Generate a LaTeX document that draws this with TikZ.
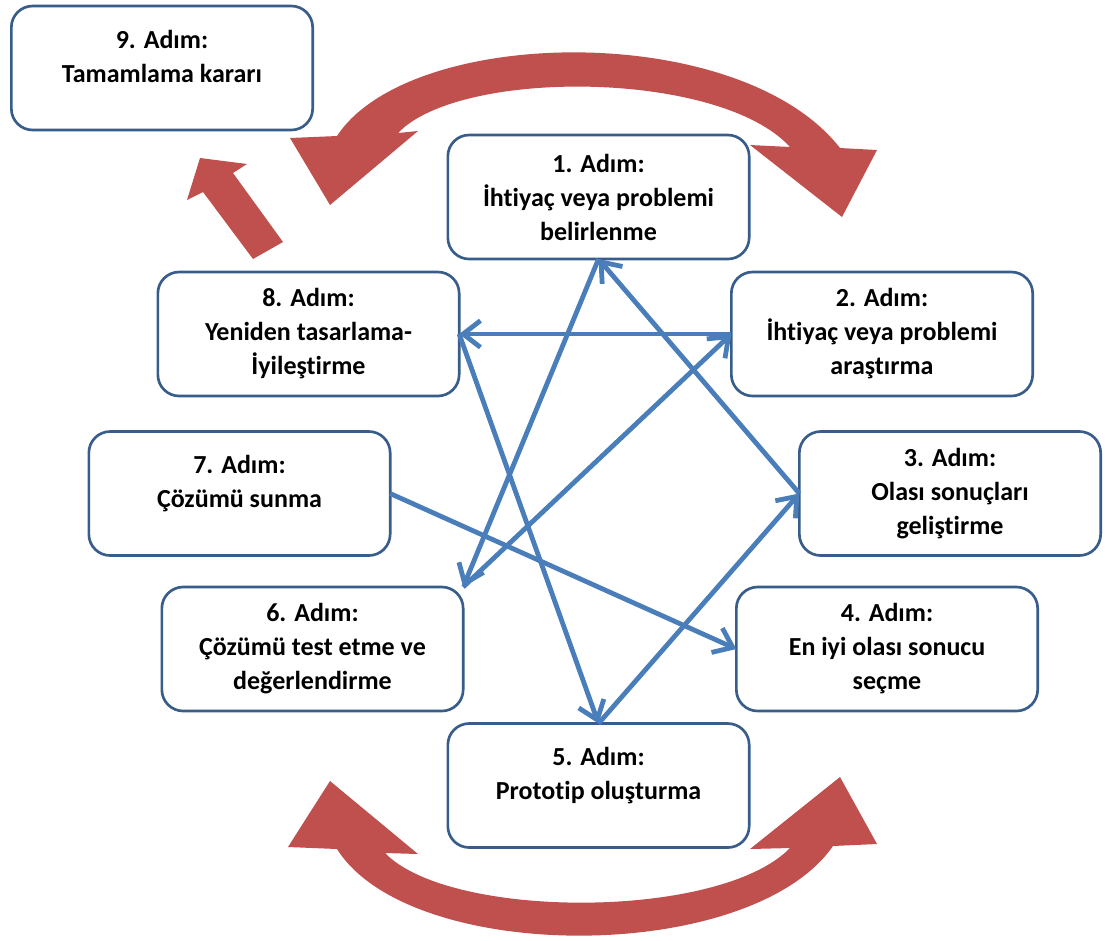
\documentclass[tikz,border=0pt]{standalone}
\usepackage{fontspec}
\setmainfont[Ligatures=NoCommon]{Carlito}
\usetikzlibrary{arrows.meta}
\definecolor{boxblue}{RGB}{56,93,138}
\definecolor{lineblue}{RGB}{74,126,187}
\definecolor{arcred}{RGB}{192,80,77}
\begin{document}
\begin{tikzpicture}[x=0.75pt,y=-0.75pt,
  stepbox/.style={draw=boxblue, line width=2pt, fill=white, rounded corners=16pt,
    minimum width=226pt, minimum height=93pt, align=center,
    font=\fontsize{19.5}{25.5}\selectfont\bfseries, inner sep=0pt, outer sep=0pt},
  flow/.style={draw=lineblue, line width=3.6pt,
    -{Straight Barb[length=13pt,width=20pt]}},
  redshape/.style={fill=arcred, draw=none}]
\useasboundingbox (0,0) rectangle (1105,940);

% red decorative arrows
\fill[redshape] (337,136) -- (290,138) -- (330,205) -- (418,131) -- (398,133)
  .. controls (460,68) and (720,70) .. (790,147)
  -- (750,145) -- (842,217) -- (877,150) -- (840,148)
  .. controls (740,20) and (410,25) .. (337,136) -- cycle;
\fill[redshape] (337,849) -- (288,847) -- (330,781) -- (418,854) -- (385,853)
  .. controls (450,920) and (720,920) .. (790,848)
  -- (750,849) -- (840,777) -- (877,844) -- (833,846)
  .. controls (750,965) and (410,965) .. (337,849) -- cycle;
\fill[redshape] (200,158) -- (247,164) -- (233,173) -- (283,242) -- (253,259)
  -- (203,192) -- (187,200) -- cycle;

% boxes
\node[stepbox] (b9) at (162,68) {9. Adım:\\Tamamlama kararı\\[-8pt]\mbox{}};
\node[stepbox] (b1) at (598.5,197) {1. Adım:\\İhtiyaç veya problemi\\belirlenme};
\node[stepbox] (b2) at (882,334) {2. Adım:\\İhtiyaç veya problemi\\araştırma};
\node[stepbox] (b8) at (308.5,334) {8. Adım:\\Yeniden tasarlama-\\İyileştirme};
\node[stepbox] (b3) at (950,493.5) {3. Adım:\\Olası sonuçları\\geliştirme};
\node[stepbox] (b7) at (239.5,493.5) {7. Adım:\\Çözümü sunma\\[-8pt]\mbox{}};
\node[stepbox] (b6) at (312.5,649) {6. Adım:\\Çözümü test etme ve\\değerlendirme};
\node[stepbox] (b4) at (887,649) {4. Adım:\\En iyi olası sonucu\\seçme};
\node[stepbox] (b5) at (598.5,785.5) {5. Adım:\\Prototip oluşturma\\[-8pt]\mbox{}};

% blue flow arrows
\draw[flow] (b1.south) -- (b6.north east);
\draw[flow] (b6.north east) -- (b2.west);
\draw[flow] (b2.west) -- (b8.east);
\draw[flow] (b8.east) -- (b5.north);
\draw[flow] (b5.north) -- (b3.west);
\draw[flow] (b3.west) -- (b1.south);
\draw[flow] (b7.east) -- (b4.west);
\end{tikzpicture}
\end{document}
